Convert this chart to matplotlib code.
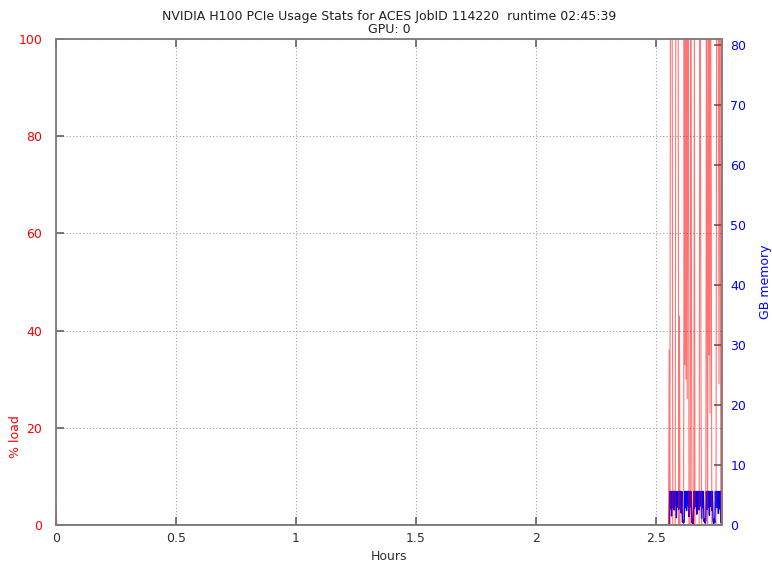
import numpy as np
import matplotlib
matplotlib.use("Agg")
import matplotlib.pyplot as plt

# run info
title = "NVIDIA H100 PCIe Usage Stats for ACES JobID 114220  runtime 02:45:39\nGPU: 0"
x_max = 2.775
mem_max = 81

# start of the job (hours, % load)
early_hours = [0.0, 0.002, 0.004, 2.548]
early_load = [5, 1, 0, 0]
early_mem = [0, 0, 0, 0]

# busy section at the end, one sample every 0.0025 h from 2.55 h
busy_start = 2.55
busy_step = 0.0025
busy_load = [0, 0, 36, 0, 100, 100, 100, 100, 0, 0,
             0, 0, 0, 100, 100, 100, 100, 100, 0, 43,
             0, 0, 0, 0, 0, 0, 0, 100, 33, 100,
             30, 100, 26, 100, 100, 0, 0, 0, 100, 50,
             0, 0, 0, 0, 100, 0, 0, 0, 0, 0,
             0, 0, 0, 100, 100, 30, 0, 0, 0, 0,
             0, 0, 0, 0, 100, 60, 0, 100, 35, 100,
             23, 100, 72, 0, 0, 0, 0, 0, 0, 0,
             0, 100, 100, 100, 100, 29, 100, 100, 0, 0,
             1]
busy_mem = [0, 0, 0.3, 5.6, 2.8, 5.6, 1.5, 5.6, 3.0, 5.6,
            2.5, 5.6, 3.2, 5.6, 1.2, 5.6, 3.0, 5.6, 2.6, 5.6,
            3.1, 5.6, 2.0, 5.6, 0.5, 0.8, 0.3, 0.6, 5.6, 2.9,
            5.6, 2.4, 5.6, 3.2, 5.6, 1.4, 5.6, 3.0, 5.6, 2.7,
            0.4, 0.9, 0.2, 5.6, 2.8, 5.6, 3.1, 5.6, 1.8, 5.6,
            3.0, 5.6, 2.5, 5.6, 3.2, 5.6, 1.1, 5.6, 2.9, 5.6,
            0.6, 1.0, 0.3, 0.8, 5.6, 2.6, 5.6, 3.0, 5.6, 1.6,
            5.6, 3.1, 5.6, 2.4, 5.6, 0.7, 0.2, 1.0, 0.4, 5.6,
            2.9, 5.6, 3.0, 5.6, 1.9, 5.6, 2.7, 5.6, 0.5, 0.3,
            0.4]

busy_hours = busy_start + busy_step * np.arange(len(busy_load))
hours = np.concatenate([early_hours, busy_hours])
load = np.concatenate([early_load, busy_load])
mem = np.concatenate([early_mem, busy_mem])

plt.rcParams['font.family'] = ['DejaVu Sans']
fig = plt.figure(figsize=(7.72, 5.66), dpi=100)
ax = fig.add_axes([56/772, 1-525/566, 666/772, 486/566])
ax2 = ax.twinx()

ax2.plot(hours, mem, color='blue', lw=1.0)
ax.set_zorder(ax2.get_zorder() + 1)
ax.patch.set_visible(False)
ax.plot(hours, load, color='red', lw=0.8, alpha=0.55)

ax.set_xlim(0, x_max)
ax.set_ylim(0, 100)
ax2.set_ylim(0, mem_max)
ax.set_xticks([0, 0.5, 1, 1.5, 2, 2.5])
ax.set_xticklabels(['0', '0.5', '1', '1.5', '2', '2.5'])
ax.set_yticks([0, 20, 40, 60, 80, 100])
ax2.set_yticks(range(0, 81, 10))

ax.grid(True, color='#a0a0a0', ls=(0, (1, 2)), lw=0.8)
ax.tick_params(axis='x', direction='in', top=True, length=6, width=1.2,
               color='#606060', labelsize=9, labelcolor='#303030', pad=5)
ax.tick_params(axis='y', direction='in', length=6, width=1.2,
               color='#606060', labelsize=9, labelcolor='red', pad=10)
ax2.tick_params(axis='y', direction='in', length=6, width=1.2,
                color='#606060', labelsize=9, labelcolor='blue', pad=6)

for a in (ax, ax2):
    for s in a.spines.values():
        s.set_color('#808080')
        s.set_linewidth(1.2)

ax.set_xlabel('Hours', fontsize=9, color='#303030', labelpad=4)
ax.set_ylabel('% load', fontsize=9, color='red')
ax.yaxis.set_label_coords((22 - 56) / 666, (525 - 437) / 486)
ax2.set_ylabel('GB memory', fontsize=9, color='blue')
ax2.yaxis.set_label_coords((759 - 56) / 666, 0.5)
ax.set_title(title, fontsize=9, color='#202020', pad=4, linespacing=1.0)

fig.savefig('out.png', dpi=100)
